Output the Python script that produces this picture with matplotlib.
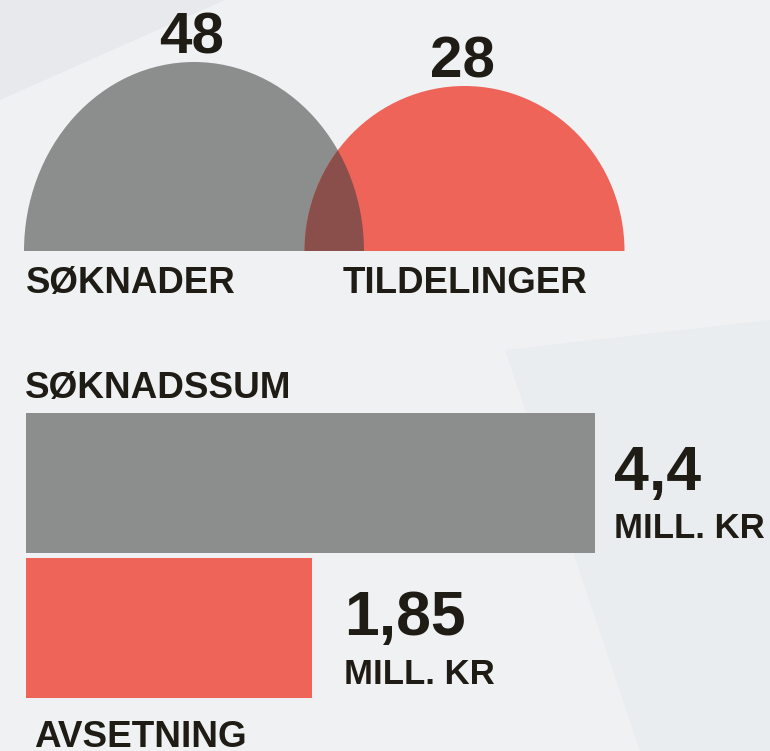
import matplotlib
matplotlib.use("Agg")
import matplotlib.pyplot as plt
from matplotlib.patches import PathPatch, Polygon
from matplotlib.path import Path
from matplotlib.transforms import Affine2D

# counts shown as half discs
count_labels = ["SØKNADER", "TILDELINGER"]
count_values = [48, 28]

# amounts shown as bars (mill. kr)
amount_labels = ["SØKNADSSUM", "AVSETNING"]
amount_values = [4.4, 1.85]
amount_texts = ["4,4", "1,85"]
unit_text = "MILL. KR"

GREY = "#8c8d8d"
RED = "#ee6459"
OVERLAP = "#8b4f4b"
INK = "#1e1c14"
BG = "#eff1f3"

plt.rcParams["font.family"] = ["Liberation Sans", "DejaVu Sans"]
plt.rcParams["font.weight"] = "bold"

W, H = 770, 751
fig = plt.figure(figsize=(W / 100, H / 100), dpi=100)
fig.patch.set_facecolor(BG)
ax = fig.add_axes([0, 0, 1, 1])
ax.set_xlim(0, W)
ax.set_ylim(H, 0)
ax.axis("off")

# faint background facets
ax.add_patch(Polygon([(0, 0), (225, 0), (0, 100)], closed=True, color="#e7e9ed", zorder=0, lw=0))
ax.add_patch(Polygon([(505, 350), (770, 320), (770, 751), (640, 751)], closed=True,
                     color="#eaedf0", zorder=0, lw=0))


# half discs: visual radius scale (px)
def rx(v):
    return 146 + 0.5 * v


def ry(v):
    return 131.4 + 1.2 * v


def half_disc(cx, v, **kw):
    tr = Affine2D().scale(rx(v), -ry(v)).translate(cx, base_y)
    return PathPatch(tr.transform_path(Path.wedge(0, 180)), lw=0, **kw)


base_y = 251
disc_x0, disc_step = 194, 270.5
colors = [GREY, RED]
discs = []
for i, v in enumerate(count_values):
    cx = disc_x0 + i * disc_step
    ax.add_patch(half_disc(cx, v, color=colors[i], zorder=2))
    discs.append((cx, v))
    ax.text(cx - 2, base_y - ry(v) - 8, str(v), ha="center", va="baseline",
            fontsize=42, color=INK, fontweight="bold")

# overlap of the two half discs
(cx0, v0), (cx1, v1) = discs
clip = half_disc(cx0, v0, transform=ax.transData)
ov = half_disc(cx1, v1, color=OVERLAP, zorder=3)
ax.add_patch(ov)
ov.set_clip_path(clip)

label_x = [26, 343]
for i, lab in enumerate(count_labels):
    ax.text(label_x[i], 293, lab, ha="left", va="baseline", fontsize=26.4,
            color=INK, fontweight="bold")


# bars: visual length scale (px), baseline at axis start
def bar_len(v):
    return 110.98 * (v + 0.727)


bar_left = 26
bar_y = [482.5, 628]
bar_h = 140
ax.barh(bar_y, [bar_len(v) for v in amount_values], height=bar_h, left=bar_left,
        color=[GREY, RED], zorder=2)

pads = [19, 32]
for i, v in enumerate(amount_values):
    x = bar_left + bar_len(v) + pads[i]
    ax.text(x, bar_y[i] + 7, amount_texts[i], ha="left", va="baseline",
            fontsize=45, color=INK, fontweight="bold")
    ax.text(x, bar_y[i] + 56, unit_text, ha="left", va="baseline",
            fontsize=25, color=INK, fontweight="bold")

ax.text(25, 398, amount_labels[0], ha="left", va="baseline", fontsize=26.6,
        color=INK, fontweight="bold")
ax.text(34, 747, amount_labels[1], ha="left", va="baseline", fontsize=26.6,
        color=INK, fontweight="bold")

fig.savefig("out.png", dpi=100, facecolor=BG)
